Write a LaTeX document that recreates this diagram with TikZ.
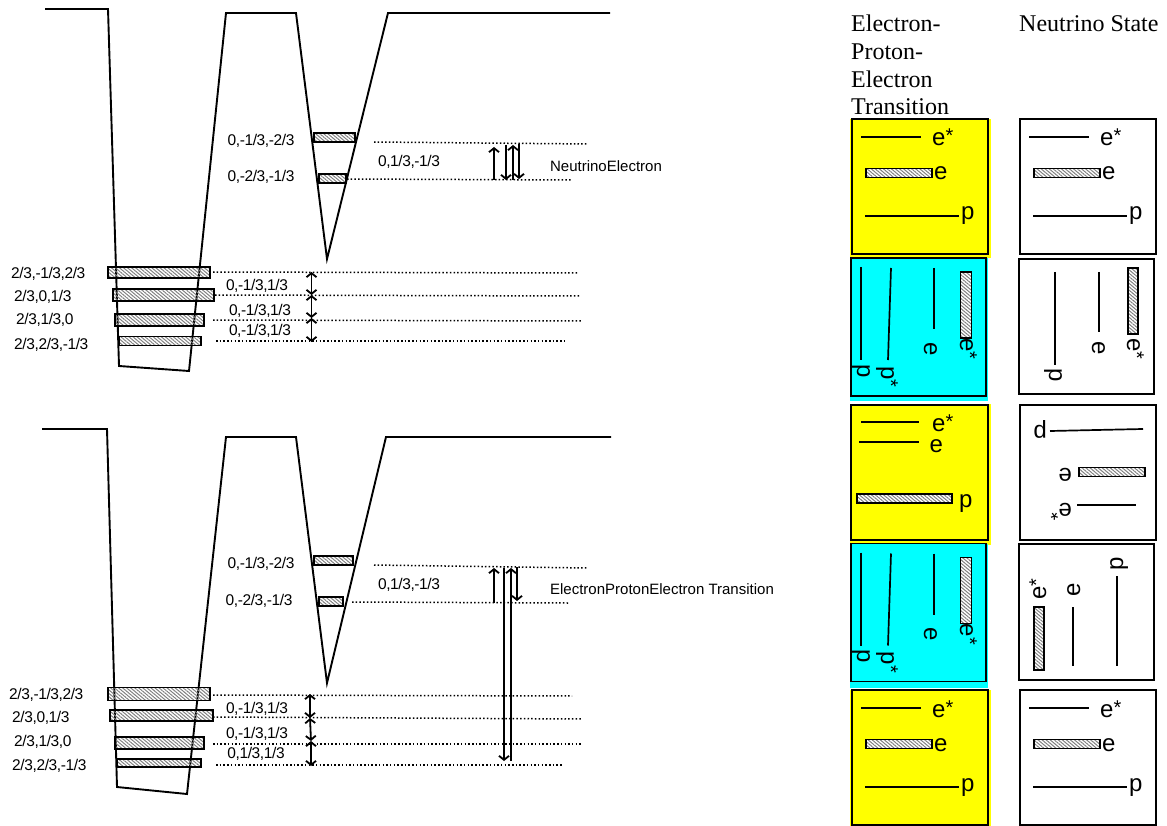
\documentclass[tikz,border=0pt]{standalone}
\usepackage{fontspec}
\setmainfont{Liberation Sans}
\newfontfamily\headfont{Liberation Serif}
\newfontfamily\lvlfont[LetterSpace=-2.5]{Liberation Sans}
\usepackage{tikz}
\usetikzlibrary{arrows.meta,patterns.meta}
\definecolor{panelyellow}{RGB}{255,255,0}
\definecolor{panelcyan}{RGB}{0,255,255}
\newcommand{\starred}[1]{#1\raisebox{3pt}{\fontsize{20}{20}\selectfont *}}
\begin{document}
\begin{tikzpicture}[
  x=1pt, y=-1pt,
  well/.style={line width=1.9pt, line join=miter},
  levelbar/.style={rectangle, draw, line width=1.9pt, inner sep=0pt, outer sep=0pt, pattern={Lines[angle=-40,distance=2.6pt,line width=1pt]}, pattern color=gray},
  statebar/.style={levelbar, preaction={fill=white}},
  dots/.style={line width=1.5pt, dash pattern=on 1.5pt off 2.2pt},
  trans/.style={line width=1.8pt, -{Straight Barb[length=4pt,width=10pt]}},
  both/.style={line width=1.8pt, {Straight Barb[length=4pt,width=10pt]}-{Straight Barb[length=4pt,width=10pt]}},
  lvltext/.style={font=\fontsize{15.5}{17}\lvlfont, inner sep=0pt},
  nametext/.style={font=\fontsize{15}{17}\selectfont, inner sep=0pt},
  statetext/.style={font=\fontsize{24}{28}\selectfont, inner sep=0pt, anchor=base west},
  headtext/.style={font=\fontsize{24}{27.6}\headfont, inner sep=0pt, anchor=north west, align=left},
  frame/.style={draw, line width=1.9pt},
  stateline/.style={line width=1.7pt}
]
\useasboundingbox (0,0) rectangle (1167,826);

% upper well
\draw[well] (45,9) -- (108,9) -- (119,366) -- (189,371) -- (226,13) -- (296,13) -- (327,259) -- (388,13) -- (610,13);
\node[levelbar, minimum width=102pt, minimum height=11pt] (ua) at (159,272.5) {};
\node[levelbar, minimum width=101pt, minimum height=12pt] (ub) at (163.5,295) {};
\node[levelbar, minimum width=89pt, minimum height=12pt] (uc) at (159.5,320) {};
\node[levelbar, minimum width=82pt, minimum height=9pt] (ud) at (160,341) {};
\node[levelbar, minimum width=41pt, minimum height=9pt] (ue) at (334.5,137.5) {};
\node[levelbar, minimum width=27pt, minimum height=9pt] (uf) at (332.5,178.5) {};

\coordinate (uea) at (374,142);   \coordinate (ueb) at (587,144);
\coordinate (ufa) at (347,179);   \coordinate (ufb) at (571,180);
\coordinate (uaa) at (213,272);   \coordinate (uab) at (577,273);
\coordinate (uba) at (215,295);   \coordinate (ubb) at (580,296);
\coordinate (uca) at (213,320);   \coordinate (ucb) at (582,321);
\coordinate (uda) at (216,341);   \coordinate (udb) at (566,341);
\draw[dots] (uea) -- (ueb);
\draw[dots] (ufa) -- (ufb);
\draw[dots] (uaa) -- (uab);
\draw[dots] (uba) -- (ubb);
\draw[dots] (uca) -- (ucb);
\draw[dots] (uda) -- (udb);

\coordinate (usa) at (311.5,272);
\coordinate (usb) at (311.5,295);
\coordinate (usc) at (311.5,318);
\coordinate (usd) at (311.5,342);
\draw[both] (usa) -- (usb);
\draw[both] (usb) -- (usc);
\draw[both] (usc) -- (usd);

\coordinate (uta) at (494,180);   \coordinate (utb) at (494,147);
\coordinate (utc) at (506,145);   \coordinate (utd) at (506,180);
\coordinate (ute) at (513,180);   \coordinate (utf) at (513,145);
\coordinate (utg) at (519,144);   \coordinate (uth) at (519,179);
\draw[trans] (uta) -- (utb);
\draw[trans] (utc) -- (utd);
\draw[trans] (ute) -- (utf);
\draw[trans] (utg) -- (uth);

\node[lvltext] (ul1) at (261,141) {0,-1/3,-2/3};
\node[lvltext] (ul2) at (261,177) {0,-2/3,-1/3};
\node[lvltext] (ul3) at (409,162) {0,1/3,-1/3};
\node[nametext] (ul4) at (606,166) {NeutrinoElectron};
\node[lvltext, anchor=west] (ul5) at (11,274) {2/3,-1/3,2/3};
\node[lvltext, anchor=west] (ul6) at (14,297) {2/3,0,1/3};
\node[lvltext, anchor=west] (ul7) at (16,320) {2/3,1/3,0};
\node[lvltext, anchor=west] (ul8) at (14,345) {2/3,2/3,-1/3};
\node[lvltext] (ul9) at (257,286) {0,-1/3,1/3};
\node[lvltext] (ul10) at (260,311) {0,-1/3,1/3};
\node[lvltext] (ul11) at (260,331) {0,-1/3,1/3};

% lower well
\draw[well] (42,429) -- (107,429) -- (117,787) -- (187,794) -- (226,437) -- (296,437) -- (327,683) -- (386,437) -- (611,437);
\node[levelbar, minimum width=102pt, minimum height=13pt] (la) at (159,694) {};
\node[levelbar, minimum width=103pt, minimum height=11pt] (lb) at (161.5,715.5) {};
\node[levelbar, minimum width=89pt, minimum height=12pt] (lc) at (159.5,743) {};
\node[levelbar, minimum width=84pt, minimum height=8pt] (ld) at (159,763) {};
\node[levelbar, minimum width=39pt, minimum height=9pt] (le) at (333.5,560.5) {};
\node[levelbar, minimum width=24pt, minimum height=9pt] (lf) at (331,601.5) {};

\coordinate (lea) at (374,565);   \coordinate (leb) at (587,568);
\coordinate (lfa) at (352,602);   \coordinate (lfb) at (568,603);
\coordinate (laa) at (213,695);   \coordinate (lab) at (572,696);
\coordinate (lba) at (213,717);   \coordinate (lbb) at (582,719);
\coordinate (lca) at (213,744);   \coordinate (lcb) at (582,744);
\coordinate (lda) at (216,765);   \coordinate (ldb) at (562,765);
\draw[dots] (lea) -- (leb);
\draw[dots] (lfa) -- (lfb);
\draw[dots] (laa) -- (lab);
\draw[dots] (lba) -- (lbb);
\draw[dots] (lca) -- (lcb);
\draw[dots] (lda) -- (ldb);

\coordinate (lsa) at (310,694);
\coordinate (lsb) at (310,718);
\coordinate (lsc) at (311,741);
\coordinate (lsd) at (311,766);
\draw[both] (lsa) -- (lsb);
\draw[both] (lsb) -- (lsc);
\draw[both] (lsc) -- (lsd);

\coordinate (lta) at (494,603);   \coordinate (ltb) at (494,568);
\coordinate (ltc) at (504,568);   \coordinate (ltd) at (504,761);
\coordinate (lte) at (511,761);   \coordinate (ltf) at (511,568);
\coordinate (ltg) at (517,567);   \coordinate (lth) at (517,601);
\draw[trans] (lta) -- (ltb);
\draw[trans] (ltc) -- (ltd);
\draw[trans] (lte) -- (ltf);
\draw[trans] (ltg) -- (lth);

\node[lvltext] (ll1) at (261,564) {0,-1/3,-2/3};
\node[lvltext] (ll2) at (259,601) {0,-2/3,-1/3};
\node[lvltext] (ll3) at (409,585) {0,1/3,-1/3};
\node[nametext] (ll4) at (662,589) {ElectronProtonElectron Transition};
\node[lvltext, anchor=west] (ll5) at (9,695) {2/3,-1/3,2/3};
\node[lvltext, anchor=west] (ll6) at (12,718) {2/3,0,1/3};
\node[lvltext, anchor=west] (ll7) at (14,742) {2/3,1/3,0};
\node[lvltext, anchor=west] (ll8) at (12,766) {2/3,2/3,-1/3};
\node[lvltext] (ll9) at (257,709) {0,-1/3,1/3};
\node[lvltext] (ll10) at (257,734) {0,-1/3,1/3};
\node[lvltext] (ll11) at (256,754) {0,1/3,1/3};

% column heads
\node[headtext] (headl) at (851,15) {Electron-\\Proton-\\Electron\\Transition};
\node[headtext] (headr) at (1019,15) {Neutrino State};

% colour panels
\fill[panelyellow] (850,119) rectangle (991,258);
\fill[panelcyan] (850,258) rectangle (988,401);
\fill[panelyellow] (850,404) rectangle (991,545);
\fill[panelcyan] (850,544) rectangle (988,688);
\fill[panelyellow] (850,690) rectangle (991,826);

% ordered state, top and bottom rows
\foreach \dx/\dy/\pn in {0/0/a,168/0/b,0/571/c,168/571/d} {
  \begin{scope}[shift={(\dx,\dy)}]
    \draw[frame] (852,119) rectangle (988,254);
    \draw[stateline] (861,137) -- (921,137);
    \node[statebar, minimum width=66pt, minimum height=9pt] (bar\pn) at (899,173) {};
    \draw[stateline] (865,216) -- (959,216);
    \node[statetext] (est\pn) at (932,146) {\starred{e}};
    \node[statetext] (el\pn) at (934,180) {e};
    \node[statetext] (pr\pn) at (961,220) {p};
  \end{scope}
}

% sideways state, cyan rows
\foreach \dy/\pn in {0/a,285.5/b} {
  \begin{scope}[shift={(0,\dy)}]
    \draw[frame] (851,258) rectangle (986,396);
    \draw[stateline] (861,267) -- (861,360);
    \draw[stateline] (891,268) -- (888,360);
    \draw[stateline] (934,268) -- (934,329);
    \node[statebar, minimum width=11pt, minimum height=66pt] (sbar\pn) at (966,305) {};
    \node[statetext, rotate=-90] (sp\pn) at (857,364) {p};
    \node[statetext, rotate=-90] (spst\pn) at (881,366) {\starred{p}};
    \node[statetext, rotate=-90] (sel\pn) at (924,342) {e};
    \node[statetext, rotate=-90] (sest\pn) at (960,338) {\starred{e}};
  \end{scope}
}

% yellow row three
\draw[frame] (851,405) rectangle (988,540);
\draw[stateline] (861,422) -- (919,422);
\draw[stateline] (859,442) -- (919,442);
\node[statebar, minimum width=95pt, minimum height=9pt] (ybar) at (904.5,498.5) {};
\node[statetext] (yest) at (932,431) {\starred{e}};
\node[statetext] (yel) at (929.5,452) {e};
\node[statetext] (ypr) at (959,507) {p};

% white rows two to four
\draw[frame] (1019,259) rectangle (1154,394);
\draw[stateline] (1055,272) -- (1055,365);
\draw[stateline] (1099,272) -- (1099,332);
\node[statebar, minimum width=10pt, minimum height=66pt] (wbara) at (1133,301) {};
\node[statetext, rotate=-90] (wpa) at (1049,368) {p};
\node[statetext, rotate=-90] (wela) at (1092,341) {e};
\node[statetext, rotate=-90] (wesa) at (1127,338) {\starred{e}};

\draw[frame] (1020,405) rectangle (1156,540);
\draw[stateline] (1050,431) -- (1143,429);
\node[statebar, minimum width=66pt, minimum height=9pt] (wbarb) at (1112,472) {};
\draw[stateline] (1077,505) -- (1136,505);
\node[statetext, rotate=180] (wpb) at (1047,425) {p};
\node[statetext, rotate=180] (welb) at (1072,468) {e};
\node[statetext, rotate=180] (wesb) at (1072,503) {\starred{e}};

\draw[frame] (1019,544) rectangle (1154,680);
\node[statebar, minimum width=10pt, minimum height=63pt] (wbarc) at (1039,638.5) {};
\draw[stateline] (1073,607) -- (1073,666);
\draw[stateline] (1117,576) -- (1117,666);
\node[statetext, rotate=90] (wesc) at (1046,600) {\starred{e}};
\node[statetext, rotate=90] (welc) at (1080,597) {e};
\node[statetext, rotate=90] (wpc) at (1123,571) {p};
\end{tikzpicture}
\end{document}
